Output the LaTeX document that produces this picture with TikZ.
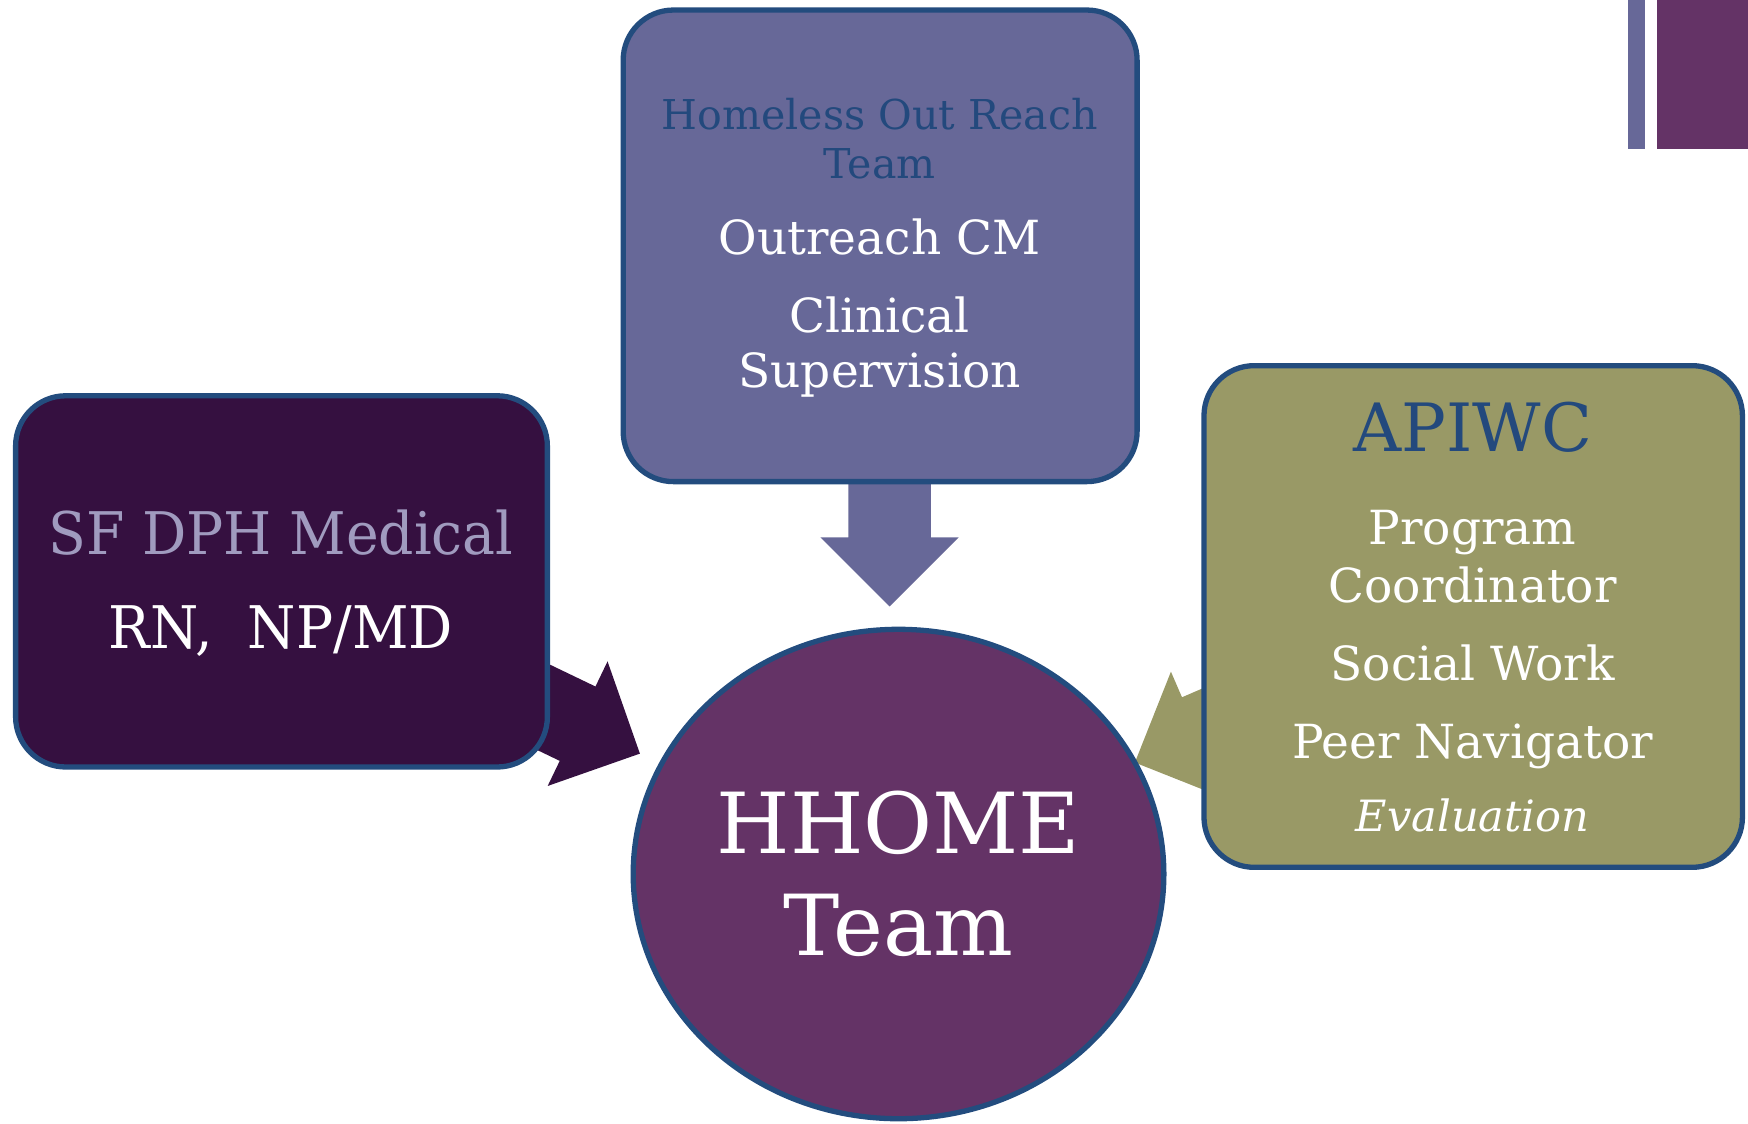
\documentclass[tikz,border=0pt]{standalone}
\usepackage{fontspec}
\setmainfont{DejaVu Serif}
\newfontfamily\condfont[FakeStretch=0.94]{DejaVu Serif}
\usetikzlibrary{backgrounds,calc,positioning,shapes.geometric}
\definecolor{hortfill}{HTML}{676898}
\definecolor{dphfill}{HTML}{351040}
\definecolor{apiwcfill}{HTML}{999966}
\definecolor{hubfill}{HTML}{643366}
\definecolor{edgeblue}{HTML}{234C7E}
\definecolor{titleblue}{HTML}{23497D}
\definecolor{dphtitle}{HTML}{A09BBF}
\tikzset{%
	box/.style    = {draw=edgeblue, line width=0.95mm, rectangle, rounded corners=9mm, inner sep=0pt}, % team box
	hub/.style    = {draw=edgeblue, line width=0.95mm, ellipse, fill=hubfill, inner sep=0pt}, % centre
	body/.style   = {anchor=base, text=white, inner sep=0pt, font=\fontsize{24}{28}\selectfont}, % member
	head/.style   = {anchor=base, text=titleblue, inner sep=0pt}, % team name
}
% block arrow: colour, from, to
\newcommand{\blockarrow}[3]{%
	\coordinate (hb) at ($(#3)!12.4mm!(#2)$);
	\fill[#1] ($(#2)!7.4mm!90:(#3)$) -- ($(hb)!7.4mm!90:(#3)$) -- ($(hb)!12.4mm!90:(#3)$) -- (#3)
		-- ($(hb)!12.4mm!-90:(#3)$) -- ($(hb)!7.4mm!-90:(#3)$) -- ($(#2)!7.4mm!-90:(#3)$) -- cycle;
}

\begin{document}
\begin{tikzpicture}[x=0.2mm, y=-0.2mm]
	\useasboundingbox (0,0) rectangle (1568,1008);
	% corner bars
	\fill[hortfill] (1460,0) rectangle (1476,134);
	\fill[hubfill] (1486,0) rectangle (1568,134);

	\node[box, fill=hortfill, minimum width=92.2mm, minimum height=84.6mm] (hort) at (789.5,220.5) {};
	\node[box, fill=dphfill, minimum width=95.4mm, minimum height=66.6mm] (dph) at (252.5,521.5) {};
	\node[box, fill=apiwcfill, minimum width=96.6mm, minimum height=90mm] (apiwc) at (1321.5,553) {};
	\node[hub, minimum width=95.2mm, minimum height=87.8mm] (hub) at (806,784) {};

	\coordinate (hortTip) at (798,544);
	\coordinate (dphTip) at (574,676);
	\coordinate (apiwcTip) at (1018,684);
	\begin{scope}[on background layer]
		\blockarrow{hortfill}{hort.center -| hortTip}{hortTip}
		\blockarrow{dphfill}{dph.center}{dphTip}
		\blockarrow{apiwcfill}{apiwc.center}{apiwcTip}
	\end{scope}

	% Homeless Out Reach Team
	\node[head, font=\fontsize{21}{25}\selectfont] (hortA) at (789,116) {Homeless Out Reach};
	\node[head, font=\fontsize{21}{25}\selectfont] (hortB) at (789,160) {Team};
	\node[body] (hortC) at (789,228) {Outreach CM};
	\node[body] (hortD) at (789,298) {Clinical};
	\node[body] (hortE) at (789,348) {Supervision};

	% SF DPH
	\node[head, text=dphtitle, font=\condfont\fontsize{30}{34}\selectfont] (dphA) at (252,497) {SF DPH Medical};
	\node[body, font=\condfont\fontsize{30}{34}\selectfont] (dphB) at (252,582) {RN,\ \ NP/MD};

	% APIWC
	\node[head, font=\fontsize{34}{40}\selectfont] (apiwcA) at (1321,405) {APIWC};
	\node[body] (apiwcB) at (1321,488) {Program};
	\node[body] (apiwcC) at (1321,540) {Coordinator};
	\node[body] (apiwcD) at (1321,610) {Social Work};
	\node[body] (apiwcE) at (1321,680) {Peer Navigator};
	\node[body, font=\itshape\fontsize{22}{26}\selectfont] (apiwcF) at (1321,746) {Evaluation};

	% HHOME Team
	\node[body, font=\fontsize{43}{50}\selectfont] (hubA) at (806,766) {HHOME};
	\node[body, font=\fontsize{43}{50}\selectfont] (hubB) at (806,857) {Team};
\end{tikzpicture}
\end{document}
